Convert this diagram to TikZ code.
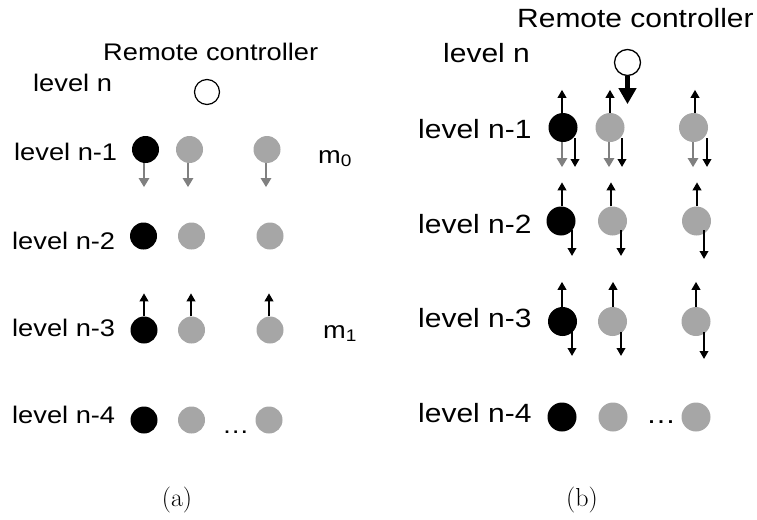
\documentclass[tikz,border=0pt]{standalone}
\usepackage{graphicx}
\usepackage{fontspec}
\setmainfont{Latin Modern Roman}
\newfontfamily\labfont{Liberation Sans}
\usetikzlibrary{arrows.meta}
\newcommand\hsx[1]{\scalebox{1.135}[1]{#1}}
\definecolor{dotgray}{RGB}{166,166,166}
\definecolor{arrgray}{RGB}{128,128,128}
\begin{document}
\begin{tikzpicture}[x=1pt,y=-1pt,
  lblA/.style={anchor=base west,inner sep=0pt,font=\labfont\fontsize{24}{28}\selectfont},
  lblB/.style={anchor=base west,inner sep=0pt,font=\labfont\fontsize{26.4}{30}\selectfont},
  capt/.style={anchor=base,inner sep=0pt,font=\fontsize{26}{30}\selectfont},
  dotA/.style={circle,inner sep=0pt,minimum size=27pt},
  dotB/.style={circle,inner sep=0pt,minimum size=29pt},
  blk/.style={fill=black},
  gry/.style={fill=dotgray},
  ctrlA/.style={circle,inner sep=0pt,minimum size=25pt,draw=black,line width=1.2pt,fill=white},
  ctrlB/.style={circle,inner sep=0pt,minimum size=26pt,draw=black,line width=1.3pt,fill=white},
  garrow/.style={draw=arrgray,line width=2.8pt,-{Triangle[width=10pt,length=9pt]}},
  karrow/.style={draw=black,line width=2.5pt,-{Triangle[width=8.5pt,length=8pt]}},
  bigarrow/.style={draw=black,line width=5pt,-{Triangle[width=17pt,length=16pt]}}]
\useasboundingbox (0,0) rectangle (757,519);

% ---------------- panel (a) ----------------
\node[lblA] (rcA) at (103,60) {\hsx{Remote controller}};
\node[lblA] (lnA) at (33,91) {\hsx{level n}};
\node[ctrlA] (cA) at (207,92) {};
\node[lblA] (l1A) at (14,160) {\hsx{level n-1}};
\node[lblA] (l2A) at (12,249) {\hsx{level n-2}};
\node[lblA] (l3A) at (12,336) {\hsx{level n-3}};
\node[lblA] (l4A) at (12,423) {\hsx{level n-4}};
\node[lblA] (m0) at (318,163) {\hsx{m\textsubscript{0}}};
\node[lblA] (m1) at (323,338) {\hsx{m\textsubscript{1}}};

\node[dotA,blk] (a11) at (145.5,149.5) {};
\node[dotA,gry] (a12) at (189.5,149.5) {};
\node[dotA,gry] (a13) at (267,149.5) {};
\node[dotA,blk] (a21) at (143.5,236) {};
\node[dotA,gry] (a22) at (191.5,236) {};
\node[dotA,gry] (a23) at (270,236) {};
\node[dotA,blk] (a31) at (144,330) {};
\node[dotA,gry] (a32) at (191.5,330) {};
\node[dotA,gry] (a33) at (270,330) {};
\node[dotA,blk] (a41) at (144,420) {};
\node[dotA,gry] (a42) at (191.5,420) {};
\node[dotA,gry] (a43) at (269,420) {};
\node[lblA] (dA) at (222,433) {\hsx{\dots}};

\draw[garrow] ([xshift=-1.5pt]a11.south) -- ++(0,24);
\draw[garrow] ([xshift=-1.5pt]a12.south) -- ++(0,24);
\draw[garrow] ([xshift=-1pt]a13.south) -- ++(0,24);
\draw[karrow] (a31.north) -- ++(0,-23);
\draw[karrow] ([xshift=-0.5pt]a32.north) -- ++(0,-23);
\draw[karrow] ([xshift=-1pt]a33.north) -- ++(0,-23);

\node[capt] (capa) at (177,506) {(a)};

% ---------------- panel (b) ----------------
\node[lblB] (rcB) at (517,28) {\hsx{Remote controller}};
\node[lblB] (lnB) at (443,63) {\hsx{level n}};
\node[ctrlB] (cB) at (627.5,62.5) {};
\node[lblB] (l1B) at (418,138) {\hsx{level n-1}};
\node[lblB] (l2B) at (418,233) {\hsx{level n-2}};
\node[lblB] (l3B) at (418,327) {\hsx{level n-3}};
\node[lblB] (l4B) at (418,422) {\hsx{level n-4}};

\node[dotB,blk] (b11) at (563,127.5) {};
\node[dotB,gry] (b12) at (610,127.5) {};
\node[dotB,gry] (b13) at (693.5,127.5) {};
\node[dotB,blk] (b21) at (561,221) {};
\node[dotB,gry] (b22) at (612.5,221) {};
\node[dotB,gry] (b23) at (696.5,221) {};
\node[dotB,blk] (b31) at (562.5,321.5) {};
\node[dotB,gry] (b32) at (612.5,321.5) {};
\node[dotB,gry] (b33) at (696,321.5) {};
\node[dotB,blk] (b41) at (562,417) {};
\node[dotB,gry] (b42) at (613,417) {};
\node[dotB,gry] (b43) at (696,417) {};
\node[lblB] (dB) at (646,423) {\hsx{\dots}};

\draw[bigarrow] (cB.south) -- ++(0,28);

% row n-1
\draw[karrow] ([xshift=-1pt]b11.north) -- ++(0,-23);
\draw[karrow] (b12.north) -- ++(0,-23);
\draw[karrow] ([xshift=1.5pt]b13.north) -- ++(0,-23);
\draw[garrow] ([xshift=-1pt]b11.south) -- ++(0,25);
\draw[garrow] ([xshift=-1pt]b12.south) -- ++(0,25);
\draw[garrow] ([xshift=-0.5pt]b13.south) -- ++(0,25);
\draw[karrow] ([xshift=12pt,yshift=-10.5pt]b11.center) -- ++(0,29);
\draw[karrow] ([xshift=12pt,yshift=-10.5pt]b12.center) -- ++(0,29);
\draw[karrow] ([xshift=13.5pt,yshift=-10.5pt]b13.center) -- ++(0,29);

% row n-2
\draw[karrow] ([xshift=1pt]b21.north) -- ++(0,-24);
\draw[karrow] ([xshift=-1.5pt]b22.north) -- ++(0,-24);
\draw[karrow] ([xshift=0.5pt]b23.north) -- ++(0,-24);
\draw[karrow] ([xshift=11pt,yshift=-9pt]b21.center) -- ++(0,26);
\draw[karrow] ([xshift=8.5pt,yshift=-9pt]b22.center) -- ++(0,26);
\draw[karrow] ([xshift=7.5pt,yshift=-9pt]b23.center) -- ++(0,29);

% row n-3
\draw[karrow] ([xshift=-0.5pt]b31.north) -- ++(0,-25);
\draw[karrow] ([xshift=0.5pt]b32.north) -- ++(0,-25);
\draw[karrow] (b33.north) -- ++(0,-25);
\draw[karrow] ([xshift=9.5pt,yshift=-10.5pt]b31.center) -- ++(0,24);
\draw[karrow] ([xshift=8.5pt,yshift=-10.5pt]b32.center) -- ++(0,24);
\draw[karrow] ([xshift=8pt,yshift=-10.5pt]b33.center) -- ++(0,27);

\node[capt] (capb) at (582,506) {(b)};
\end{tikzpicture}
\end{document}
